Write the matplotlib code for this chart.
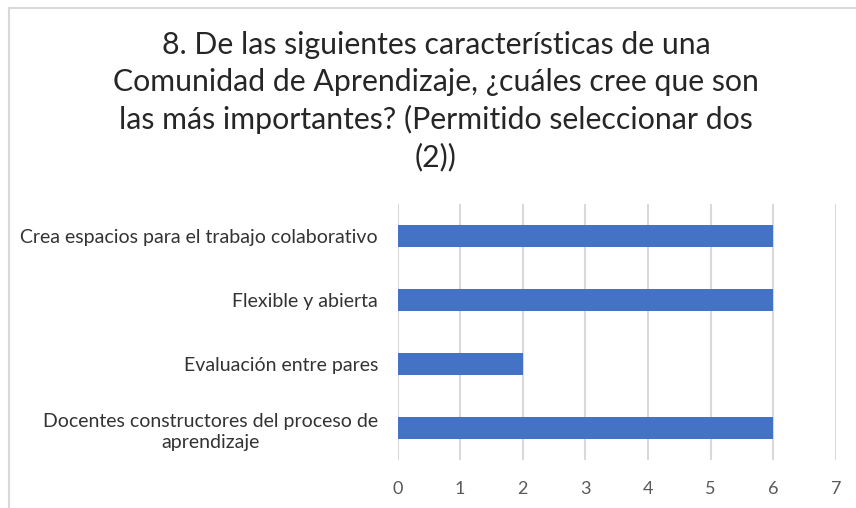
import matplotlib.pyplot as plt
from matplotlib.lines import Line2D

plt.rcParams['font.family'] = ['Lato', 'DejaVu Sans']

titulo = ('8. De las siguientes características de una\n'
          'Comunidad de Aprendizaje, ¿cuáles cree que son\n'
          'las más importantes? (Permitido seleccionar dos\n'
          '(2))')
categorias = ['Docentes constructores del proceso de\naprendizaje',
              'Evaluación entre pares',
              'Flexible y abierta',
              'Crea espacios para el trabajo colaborativo']
valores = [6, 2, 6, 6]
ticks = [0, 1, 2, 3, 4, 5, 6, 7]

fig = plt.figure(figsize=(8.56, 5.08), dpi=100)
ax = fig.add_axes([397.5 / 856, 1 - 460 / 508, 438.5 / 856, 256 / 508])

ax.barh(range(len(categorias)), valores, height=0.35, color='#4472c4', zorder=3)
ax.set_xlim(0, 7)
ax.set_ylim(-0.5, len(categorias) - 0.5)
ax.set_xticks(ticks)
ax.set_yticks(range(len(categorias)))
ax.set_yticklabels(categorias, fontsize=14, color='#333333', linespacing=1.3)
for lab in ax.get_yticklabels():
    lab.set_multialignment('center')
ax.tick_params(axis='y', length=0, pad=14)
ax.tick_params(axis='x', length=0, pad=15, labelsize=13, labelcolor='#595959')
ax.grid(axis='x', color='#d9d9d9', linewidth=1.5, zorder=0)
for s in ax.spines.values():
    s.set_visible(False)

fig.text(436 / 856, 1 - 31 / 508, titulo, ha='center', va='top', fontsize=21.8,
         color='#262626', linespacing=1.37)

# marco del gráfico
fig.add_artist(Line2D([9 / 856, 9 / 856], [0, 1 - 8 / 508], color='#d9d9d9', lw=1.5))
fig.add_artist(Line2D([9 / 856, 1], [1 - 8 / 508, 1 - 8 / 508], color='#d9d9d9', lw=1.5))

fig.savefig('out.png', dpi=100)
